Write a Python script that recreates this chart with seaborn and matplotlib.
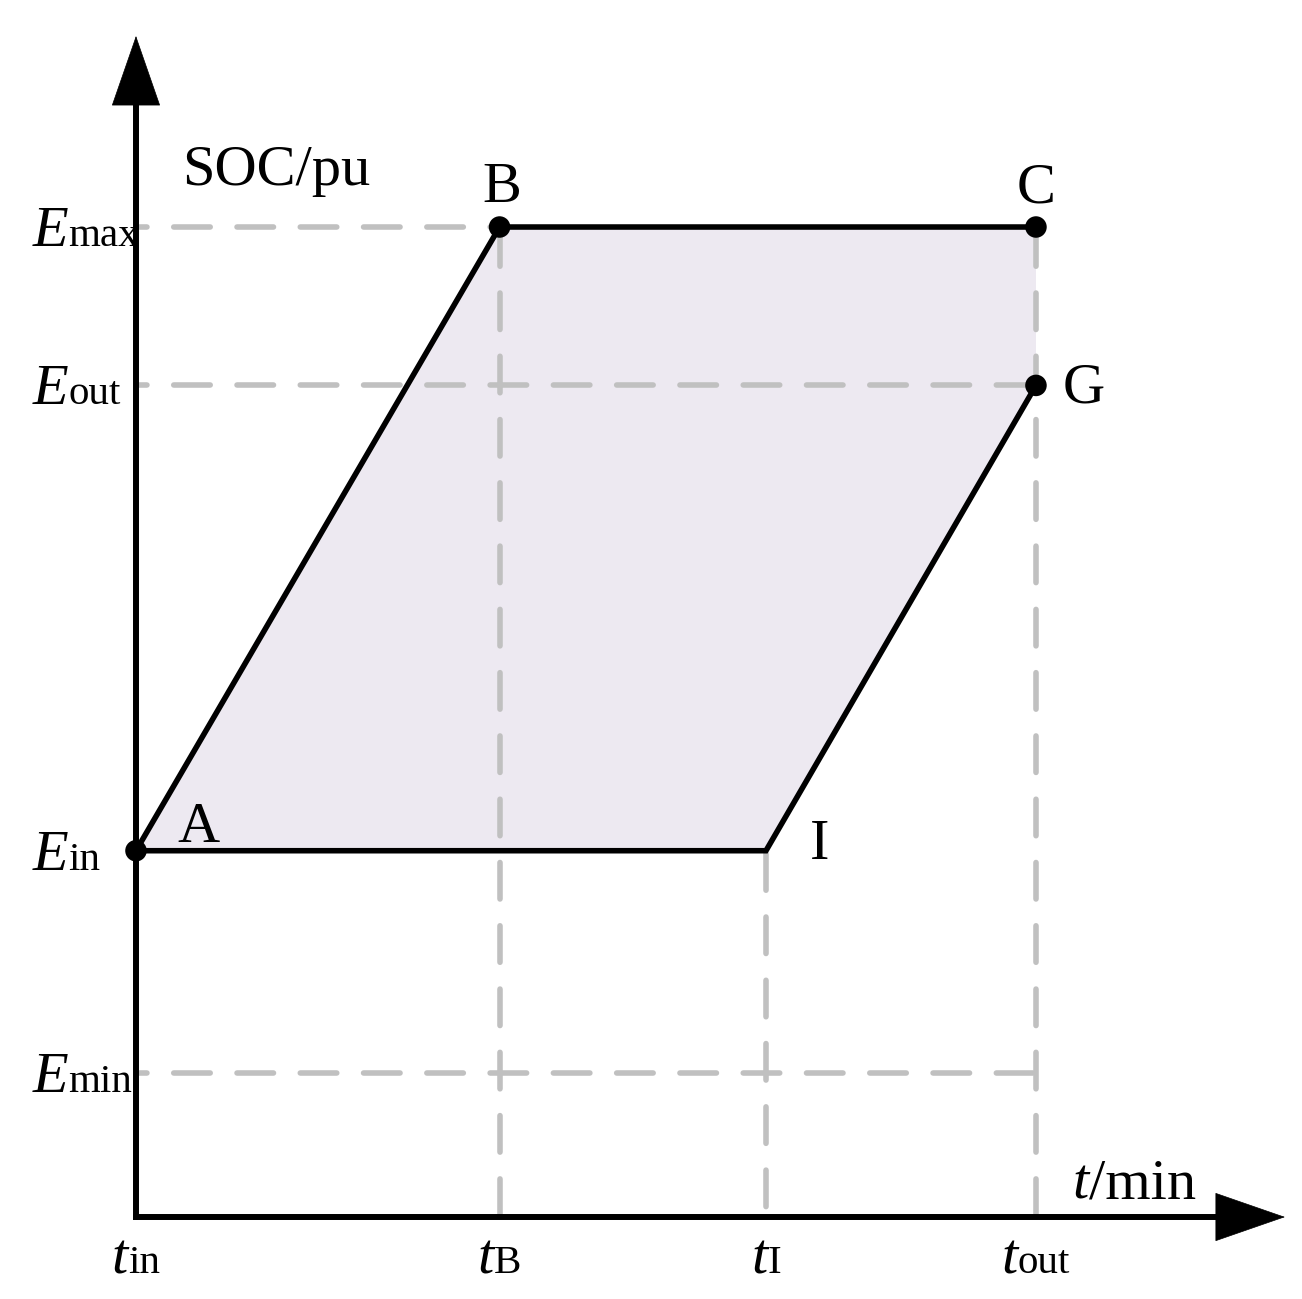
import matplotlib
matplotlib.use("Agg")
import matplotlib.pyplot as plt
from matplotlib.transforms import Affine2D
import seaborn as sns
import pandas as pd

# ---------------- data ----------------
t_labels = ["in", "B", "I", "out"]
t_values = [0, 40.4, 70, 100]
E_labels = ["max", "out", "in", "min"]
E_values = [1.0, 0.84, 0.37, 0.145]

point_names = ["A", "B", "C", "G", "I"]
point_t = [0, 40.4, 100, 100, 70]
point_E = [0.37, 1.0, 1.0, 0.84, 0.37]
marked_points = ["A", "B", "C", "G"]
upper_path = ["A", "B", "C"]
lower_path = ["A", "I", "G"]
region_path = ["A", "B", "C", "G", "I"]

# dashed guides
h_guide_E = [1.0, 0.84, 0.145]
h_guide_t_end = [40.4, 100, 100]
v_guide_t = [40.4, 70, 100]
v_guide_E_top = [1.0, 0.37, 1.0]

y_title = "SOC/pu"
x_title_main, x_title_rest = "t", "/min"

# ---------------- style ----------------
sns.set_theme(style="white")
plt.rcParams["font.family"] = ["Liberation Serif", "DejaVu Serif"]
plt.rcParams["text.color"] = "black"

FS_MAIN = 42
FS_SUB = 29.5
GRID_C = "#c0c0c0"
FILL_C = "#ede9f1"

fig = plt.figure(figsize=(13.02, 12.99), dpi=100)
ax = fig.add_axes([0, 0, 1, 1])
ax.set_xlim(-15.11, 129.56)
ax.set_ylim(-0.0828, 1.2293)
ax.axis("off")
renderer = fig.canvas.get_renderer()

pts = pd.DataFrame({"name": point_names, "t": point_t, "E": point_E}).set_index("name")

# shaded feasible region
reg = pts.loc[region_path]
ax.fill(reg["t"], reg["E"], color=FILL_C, lw=0, zorder=1)

# dashed guides
GLW = 4.0
h_dash = (4.6, (6.57, 4.82))
v_dash = (10.9, (6.57, 4.82))
for e, tend in zip(h_guide_E, h_guide_t_end):
    ax.plot([0, tend], [e, e], color=GRID_C, lw=GLW, linestyle=h_dash,
            dash_capstyle="round", zorder=2)
for t, etop in zip(v_guide_t, v_guide_E_top):
    ax.plot([t, t], [etop, 0], color=GRID_C, lw=GLW, linestyle=v_dash,
            dash_capstyle="round", zorder=2)

# boundary lines
for path in (upper_path, lower_path):
    d = pts.loc[path].reset_index()
    sns.lineplot(data=d, x="t", y="E", sort=False, estimator=None, ax=ax,
                 color="black", lw=4.0, zorder=3, legend=False)
for l in ax.lines[-2:]:
    l.set_solid_joinstyle("miter")

# axes with arrows
ax.plot([0, 0], [0, 1.125], color="black", lw=4.3, zorder=4, solid_capstyle="projecting")
ax.plot([0, 120.0], [0, 0], color="black", lw=4.3, zorder=4, solid_capstyle="projecting")
arrow = dict(arrowstyle="-|>,head_length=0.98,head_width=0.34", mutation_scale=50,
             color="black", lw=0.5, shrinkA=0, shrinkB=0)
ax.annotate("", xy=(0, 1.193), xytext=(0, 1.123), arrowprops=arrow, zorder=5)
ax.annotate("", xy=(127.67, 0), xytext=(119.9, 0), arrowprops=arrow, zorder=5)

# markers
mk = pts.loc[marked_points].reset_index()
sns.scatterplot(data=mk, x="t", y="E", ax=ax, color="black", s=240,
                edgecolor="none", zorder=6, legend=False)


def compound(x, y, main, rest, ha="left", main_style="italic", rest_size=FS_SUB):
    t1 = ax.text(x, y, main, fontsize=FS_MAIN, style=main_style, va="baseline",
                 ha="left", color="black")
    t2 = ax.text(x, y, rest, fontsize=rest_size, va="baseline", ha="left", color="black")
    w1 = t1.get_window_extent(renderer).width
    w2 = t2.get_window_extent(renderer).width
    start = {"left": 0, "center": -(w1 + w2) / 2, "right": -(w1 + w2)}[ha]
    t1.set_transform(ax.transData + Affine2D().translate(start, 0))
    t2.set_transform(ax.transData + Affine2D().translate(start + w1, 0))


# E tick labels (left of y axis)
for lab, e in zip(E_labels, E_values):
    compound(-11.5, e - 0.0192, "E", lab, ha="left")

# t tick labels (below x axis)
for lab, t in zip(t_labels, t_values):
    compound(t, -0.0566, "t", lab, ha="center")

# point labels
offsets = {"A": (29.5, 6.5, "left"), "B": (1.4, 18.0, "center"),
           "C": (0.0, 17.3, "center"), "G": (19.4, -12.2, "left"),
           "I": (31.7, -5.8, "left")}
for n in point_names:
    dx, dy, ha = offsets[n]
    ax.annotate(n, xy=(pts.loc[n, "t"], pts.loc[n, "E"]), xytext=(dx, dy),
                textcoords="offset points", ha=ha, va="baseline",
                fontsize=FS_MAIN, color="black", zorder=7)

# axis titles
ax.text(5.1, 1.042, y_title, fontsize=FS_MAIN, va="baseline", ha="left", color="black")
compound(104.1, 0.0192, x_title_main, x_title_rest, ha="left", rest_size=FS_MAIN)

fig.savefig("out.png", dpi=100, facecolor="white")
